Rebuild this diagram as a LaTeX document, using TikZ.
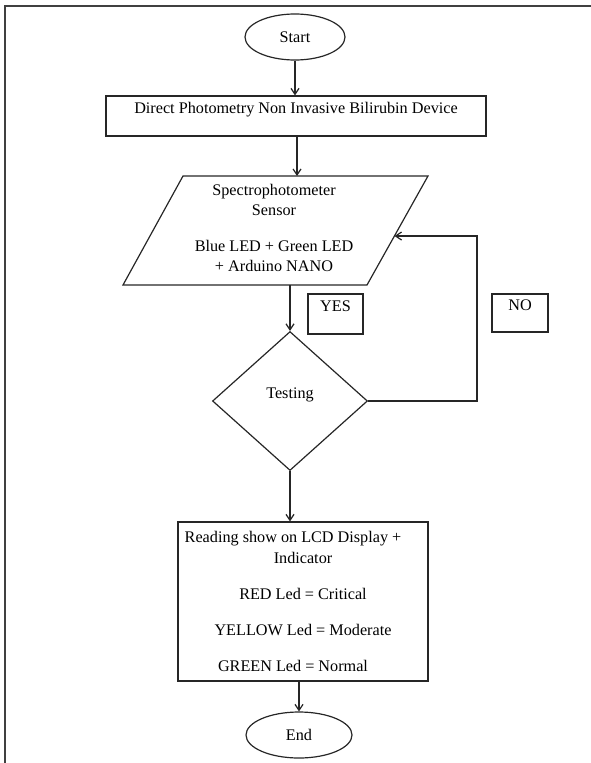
\documentclass[tikz,border=0pt]{standalone}
\usepackage{fontspec}
\setmainfont{Liberation Serif}
\usetikzlibrary{shapes.geometric,arrows.meta}
\begin{document}
\begin{tikzpicture}[x=1pt,y=-1pt,
  every node/.style={font=\fontsize{16.2}{20}\selectfont, inner sep=0pt},
  ln/.style={line width=1.2pt, draw=black!85},
  arr/.style={ln, -{Straight Barb[length=6pt,width=8pt]}},
  term/.style={ellipse, ln, draw},
  boxnode/.style={rectangle, ln, draw}]
\useasboundingbox (0,0) rectangle (590,763);
% outer frame
\draw[line width=1.3pt, black!75] (5,770) -- (5,6) -- (600,6);
% nodes
\node[term, minimum width=100pt, minimum height=46pt] (start) at (295,37) {Start};
\node[boxnode, minimum width=380pt, minimum height=40pt, text height=17pt, text depth=23pt] (box1) at (296,116) {Direct Photometry Non Invasive Bilirubin Device};
\coordinate (pTL) at (183,176);
\coordinate (pTR) at (428,176);
\coordinate (pBR) at (367,285);
\coordinate (pBL) at (123,285);
\draw[ln] (pTL) -- (pTR) -- (pBR) -- (pBL) -- cycle;
\node[align=center] (sensor) at (274,228) {Spectrophotometer\\Sensor\\[16pt]Blue LED + Green LED\\+ Arduino NANO};
\node[diamond, ln, draw, minimum width=155pt, minimum height=139pt, aspect=1.115, text height=11pt, text depth=16pt] (test) at (290,401) {Testing};
\node[boxnode, minimum width=55pt, minimum height=40pt, text height=17.4pt, text depth=22.6pt] (yes) at (335.5,314) {YES};
\node[boxnode, minimum width=56pt, minimum height=38pt, text height=16.4pt, text depth=21.6pt] (no) at (520,313) {NO};
\node[boxnode, minimum width=250pt, minimum height=159pt, align=center, font=\fontsize{16.2}{21}\selectfont] (res) at (303,601.5) {Reading show on LCD Display +\hspace*{20pt}\\Indicator\hspace*{20pt}\\[15pt]RED Led = Critical\hspace*{20pt}\\[15pt]YELLOW Led = Moderate\hspace*{20pt}\\[15pt]GREEN Led = Normal\hspace*{20pt}};
\node[term, minimum width=106pt, minimum height=46pt] (end) at (299,735) {End};
\coordinate (fbtop) at (477,236);
\coordinate (pin) at (394.5,236);
% connectors
\draw[arr] (start.south) -- (start.south |- box1.north);
\draw[arr] ([xshift=1pt]box1.south) -- ([xshift=1pt]box1.south |- pTL);
\draw[arr] (test.north |- pBL) -- (test.north);
\draw[arr] (test.east) -| (fbtop) -- (pin);
\draw[arr] (test.south) -- (test.south |- res.north);
\draw[arr] (end.north |- res.south) -- (end.north);
\end{tikzpicture}
\end{document}
